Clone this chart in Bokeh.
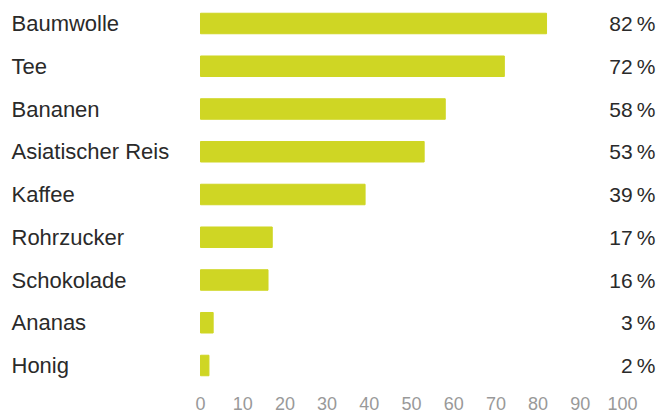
from bokeh.plotting import figure
from bokeh.models import ColumnDataSource, LabelSet, Range1d, FixedTicker
from bokeh.core.properties import value
from bokeh.embed import file_html
from bokeh.resources import INLINE

categories = ["Baumwolle", "Tee", "Bananen", "Asiatischer Reis", "Kaffee",
              "Rohrzucker", "Schokolade", "Ananas", "Honig"]
values = [82, 72, 58, 53, 39, 17, 16, 3, 2]
ticks = [0, 10, 20, 30, 40, 50, 60, 70, 80, 90, 100]

BAR = "#CFD624"
FONT = "Liberation Sans"

src = ColumnDataSource(dict(
    cat=categories,
    val=values,
    y=list(range(len(categories))),
    pct=[f"{v}\u2009%" for v in values],
))

FW, FH = 660, 389
px_per_unit_x = 4.22
x0 = 200
row_px = 42.75
row0 = 23

p = figure(frame_width=FW, frame_height=FH, output_backend="svg", toolbar_location=None,
           x_range=Range1d(-x0 / px_per_unit_x, (FW - x0) / px_per_unit_x),
           y_range=Range1d((FH - row0) / row_px, -row0 / row_px),
           y_axis_location=None, min_border=0)

p.hbar(y="y", left=0, right="val", height=0.48, color=BAR, source=src)

p.add_layout(LabelSet(x=11, x_units="screen", y="y", text="cat", source=src,
                      text_align="left", text_baseline="middle",
                      text_font=value(FONT), text_font_size=value("22px"),
                      text_color=value("#2a2a2a")))
p.add_layout(LabelSet(x=655, x_units="screen", y="y", text="pct", source=src,
                      text_align="right", text_baseline="middle",
                      text_font=value(FONT), text_font_size=value("21px"),
                      text_color=value("#2a2a2a")))

ax = p.xaxis[0]
ax.ticker = FixedTicker(ticks=ticks)
ax.axis_line_color = None
ax.major_tick_line_color = None
ax.minor_tick_line_color = None
ax.major_label_text_color = "#999999"
ax.major_label_text_font = FONT
ax.major_label_text_font_size = "18px"
ax.major_label_standoff = 1

p.xgrid.visible = False
p.ygrid.visible = False
p.outline_line_color = None
p.background_fill_color = "white"
p.border_fill_color = "white"

open("out.html", "w").write(file_html(p, INLINE))
